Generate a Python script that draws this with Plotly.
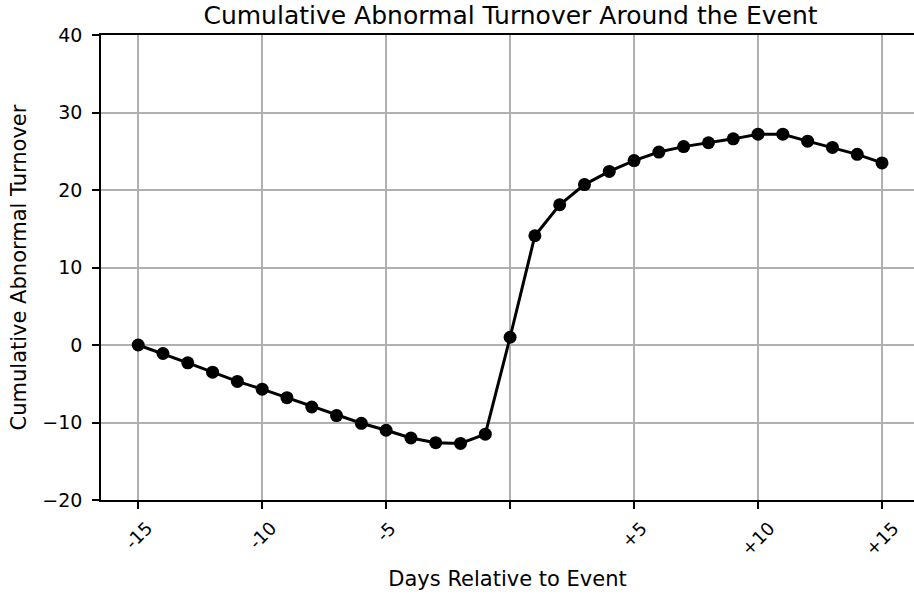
import plotly.graph_objects as go

days = list(range(-15, 16))
car = [0.0, -1.1, -2.3, -3.5, -4.7, -5.7, -6.8, -8.0, -9.1, -10.1, -11.0, -12.0, -12.6, -12.7, -11.5,
       1.0, 14.1, 18.1, 20.7, 22.4, 23.8, 24.9, 25.6, 26.1, 26.6, 27.2, 27.2, 26.3, 25.5, 24.6, 23.5]
x_tickvals = [-15, -10, -5, 0, 5, 10, 15]
x_ticktext = ['-15', '-10', '-5', '', '+5', '+10', '+15']
y_tickvals = [-20, -10, 0, 10, 20, 30, 40]

font = "DejaVu Sans"
W, H = 914, 594
L, R, T, B = 101, 0, 35, 94
ph = H - T - B

fig = go.Figure()
fig.add_trace(go.Scatter(
    x=days, y=car, mode="lines+markers",
    line=dict(color="black", width=3),
    marker=dict(color="black", size=13),
    showlegend=False,
))

# rotated x tick labels, centred under each tick like the reference
for v, t in zip(x_tickvals, x_ticktext):
    if t:
        fig.add_annotation(x=v, y=-15 / ph, xref="x", yref="paper",
                           text=t, textangle=-45, showarrow=False,
                           xanchor="center", yanchor="top",
                           font=dict(family=font, size=18, color="black"))

fig.update_layout(
    width=W, height=H,
    margin=dict(l=L, r=R, t=T, b=B),
    paper_bgcolor="white", plot_bgcolor="white",
    font=dict(family=font, size=19, color="black"),
    title=dict(text="Cumulative Abnormal Turnover Around the Event",
               x=(101 + 920) / 2 / W, xanchor="center", xref="container",
               y=1 - 15 / H, yanchor="middle", yref="container",
               font=dict(family=font, size=25, color="black")),
)
fig.update_xaxes(
    range=[-16.5, -15 + (914 - 138) / 24.8],
    tickvals=x_tickvals, showticklabels=False,
    ticks="outside", ticklen=7, tickcolor="black", tickwidth=1.6,
    showgrid=True, gridcolor="#b0b0b0", gridwidth=1.6,
    showline=True, linecolor="black", linewidth=1.6, mirror=True,
    zeroline=False, automargin=False,
    title=dict(text="Days Relative to Event", font=dict(size=21), standoff=63),
)
fig.update_yaxes(
    range=[-20, 40], tickvals=y_tickvals,
    ticks="outside", ticklen=7, tickcolor="black", tickwidth=1.6,
    ticklabelstandoff=6,
    showgrid=True, gridcolor="#b0b0b0", gridwidth=1.6,
    showline=True, linecolor="black", linewidth=1.6,
    zeroline=False, automargin=False,
    title=dict(text="Cumulative Abnormal Turnover", font=dict(size=21), standoff=10),
)
fig.write_html("out.html", config={"displayModeBar": False},
               post_script="document.body.style.margin='0px';")
